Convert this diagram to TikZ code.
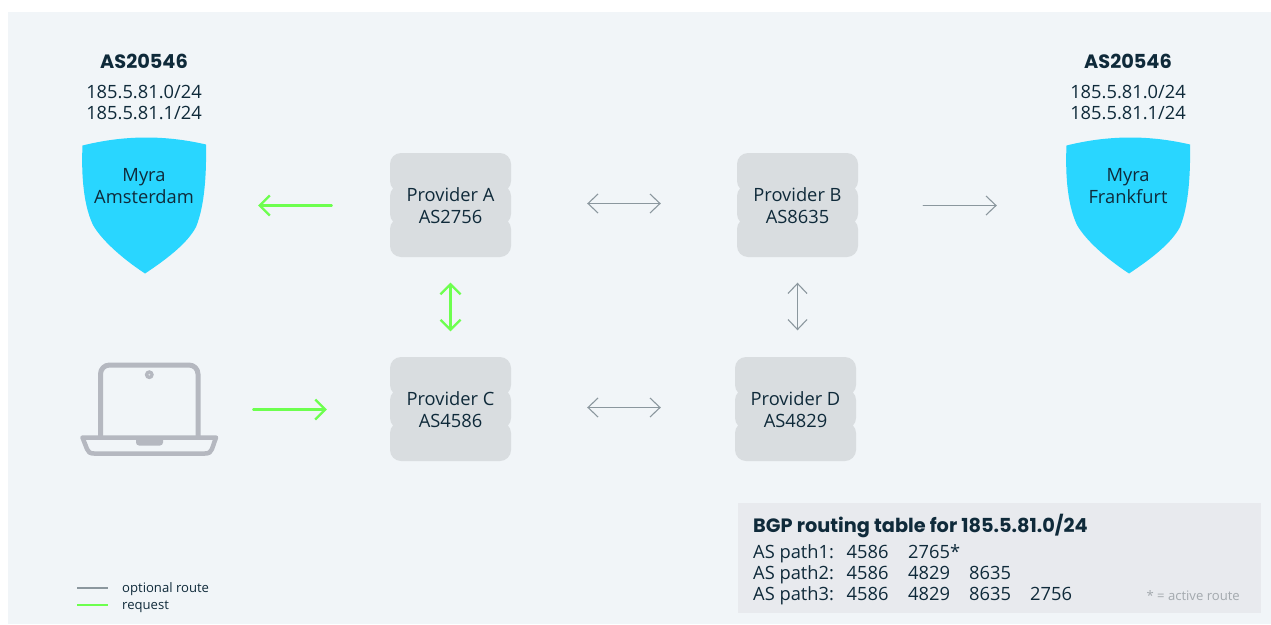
\documentclass[tikz,border=0pt]{standalone}
\usepackage{fontspec}
\setmainfont{Open Sans}
\newfontfamily\headfont{Poppins}[BoldFont={Poppins Bold}]
\usetikzlibrary{arrows.meta,calc}
\definecolor{panelbg}{HTML}{F1F5F8}
\definecolor{shieldc}{HTML}{29D6FF}
\definecolor{provc}{HTML}{D9DDE0}
\definecolor{tablec}{HTML}{E8EAEE}
\definecolor{inkc}{HTML}{0F2A3A}
\definecolor{routec}{HTML}{8B979E}
\definecolor{greenc}{HTML}{6DFF4F}
\definecolor{laptopc}{HTML}{B5B8C0}
\definecolor{notec}{HTML}{A3A9AE}
\tikzset{
  txt/.style={text=inkc,inner sep=0pt,align=center,font=\fontsize{18.3}{21.5}\selectfont},
  head/.style={text=inkc,inner sep=0pt,font=\headfont\fontsize{19.3}{22}\selectfont\bfseries},
  tbl/.style={text=inkc,inner sep=0pt,anchor=base west,font=\fontsize{18.3}{22}\selectfont},
  small/.style={text=inkc,inner sep=0pt,anchor=base west,font=\fontsize{13.1}{15}\selectfont},
  optarrow/.style={draw=routec,line width=1.1pt,line cap=round,{Straight Barb[length=10pt,width=19pt]}-{Straight Barb[length=10pt,width=19pt]}},
  optone/.style={draw=routec,line width=1.1pt,line cap=round,-{Straight Barb[length=10pt,width=19pt]}},
  reqarrow/.style={draw=greenc,line width=2.2pt,line cap=round,{Straight Barb[length=10pt,width=20pt]}-{Straight Barb[length=10pt,width=20pt]}},
  reqone/.style={draw=greenc,line width=2.2pt,line cap=round,-{Straight Barb[length=10pt,width=20pt]}},
  laptopline/.style={draw=laptopc,line width=5pt,line join=round},
  provnode/.style={txt,minimum width=121pt,minimum height=104pt},
  shieldnode/.style={txt,minimum width=124pt,minimum height=137pt}
}
\newcommand{\provbox}[4]{%
  \fill[provc,rounded corners=11pt] (#2-60.5,#3-52) rectangle (#2+60.5,#3-13);
  \fill[provc,rounded corners=11pt] (#2-60.5,#3-20) rectangle (#2+60.5,#3+20);
  \fill[provc,rounded corners=11pt] (#2-60.5,#3+13) rectangle (#2+60.5,#3+52);
  \node[provnode] (#1) at (#2,#3.5) {#4};
}
\newcommand{\shieldshape}[1]{%
  \begin{scope}[xshift=#1pt]
  \fill[shieldc] (-62.5,8.5) .. controls (-20,-2) and (20,-2) .. (61,7.5)
    .. controls (61.5,35) and (60,68) .. (51,90)
    .. controls (43,105) and (25,120) .. (0,136.5)
    .. controls (-25,120) and (-44,102) .. (-52,88)
    .. controls (-63,65) and (-63.5,30) .. (-62.5,8.5) -- cycle;
  \end{scope}
}
\begin{document}
\begin{tikzpicture}[x=1pt,y=-1pt]
\useasboundingbox (0,0) rectangle (1271,624);
\fill[white] (0,0) rectangle (1271,624);
\fill[panelbg] (8,12) rectangle (1271,624);

% shields
\begin{scope}[yshift=-137pt]
\shieldshape{145}
\shieldshape{1129}
\end{scope}
\node[shieldnode] (ams) at (144,205) {};
\node[shieldnode] (fra) at (1128,205) {};
\node[txt] (amstxt) at (144,186) {Myra\\Amsterdam};
\node[txt] (fratxt) at (1128,186) {Myra\\Frankfurt};
\node[head] (asl) at (144,61) {AS20546};
\node[head] (asr) at (1128,61) {AS20546};
\node[txt] (ipl) at (144,102.5) {185.5.81.0/24\\185.5.81.1/24};
\node[txt] (ipr) at (1128,102.5) {185.5.81.0/24\\185.5.81.1/24};

% providers
\provbox{pa}{450.5}{205}{Provider A\\AS2756}
\provbox{pb}{797.5}{205}{Provider B\\AS8635}
\provbox{pc}{450.5}{409}{Provider C\\AS4586}
\provbox{pd}{795.5}{409}{Provider D\\AS4829}

% laptop
\draw[laptopline,rounded corners=9pt] (100.5,438) -- (100.5,365) -- (198,365) -- (198,438);
\draw[draw=laptopc,line width=4.5pt,line join=round,fill=panelbg]
  (82.5,437.5) -- (216,437.5) -- (212,449) .. controls (211,452) and (209,453.5) .. (205,453.5)
  -- (94,453.5) .. controls (90,453.5) and (88,452) .. (87,449) -- cycle;
\fill[laptopc,rounded corners=3pt] (136,436) -- (163,436) -- (163,445.5) -- (136,445.5) -- cycle;
\fill[laptopc] (149.3,374.7) circle (4.5);
\fill[panelbg!70!laptopc] (149.3,374.7) circle (1);
\node[minimum width=138pt,minimum height=94pt,inner sep=0pt] (laptop) at (149,409.5) {};

% connectors
\draw[reqone,shorten <=58pt,shorten >=52pt] (pa.west) -- (ams.east |- pa.west);
\draw[optarrow,shorten <=76pt,shorten >=76pt] ([yshift=2pt]pa.east) -- ([yshift=2pt]pb.west);
\draw[optone,shorten <=65pt,shorten >=69pt] (pb.east) -- (fra.west |- pb.east);
\draw[reqarrow,shorten <=25pt,shorten >=26pt] (pa.south) -- (pc.north);
\draw[optarrow,shorten <=25pt,shorten >=27pt] (pb.south) -- (pb.south |- pd.north);
\draw[optarrow,shorten <=76pt,shorten >=74pt] ([yshift=2pt]pc.east) -- ([yshift=2pt]pd.west);
\draw[reqone,shorten <=35pt,shorten >=63pt] (laptop.east) -- (pc.west);

% table
\fill[tablec] (738,503) rectangle (1261,613);
\node[head,anchor=base west] (ttl) at (753,532) {BGP routing table for 185.5.81.0/24};
\node[tbl] (r1) at (753,558) {AS path1:};
\node[tbl] (r2) at (753,579) {AS path2:};
\node[tbl] (r3) at (753,600) {AS path3:};
\node[tbl] (r1a) at (846.5,558) {4586};
\node[tbl] (r1b) at (908,558) {2765*};
\node[tbl] (r2a) at (846.5,579) {4586};
\node[tbl] (r2b) at (908,579) {4829};
\node[tbl] (r2c) at (969,579) {8635};
\node[tbl] (r3a) at (846.5,600) {4586};
\node[tbl] (r3b) at (908,600) {4829};
\node[tbl] (r3c) at (969,600) {8635};
\node[tbl] (r3d) at (1030,600) {2756};
\node[small,text=notec,anchor=base east] (note) at (1240,600) {* = active route};

% legend
\coordinate (la) at (77,588);
\coordinate (lb) at (108,588);
\coordinate (lc) at (77,605);
\coordinate (ld) at (108,605);
\draw[draw=routec,line width=1.1pt] (la) -- (lb);
\draw[draw=greenc,line width=2.2pt] (lc) -- (ld);
\node[small] (lt1) at (122,592.5) {optional route};
\node[small] (lt2) at (122,609) {request};
\end{tikzpicture}
\end{document}
